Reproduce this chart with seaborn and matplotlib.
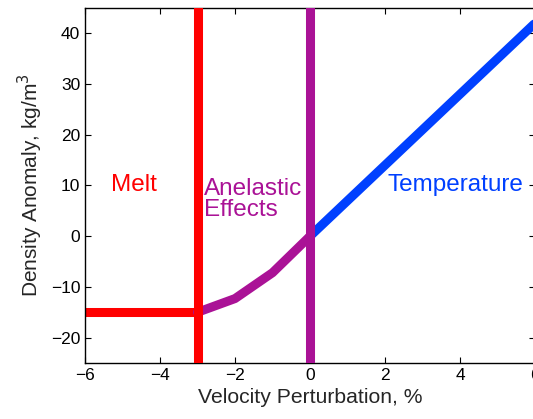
import numpy as np
import pandas as pd
import seaborn as sns
import matplotlib.pyplot as plt

sns.set_style("ticks")
plt.rcParams['font.family'] = ['Liberation Sans', 'DejaVu Sans']

# data
melt_x = [-6, -3]
melt_y = [-15, -15]
anel_x = [-3, -2, -1, 0]
anel_y = [-15, -12.3, -7.2, 0]
temp_x = [0, 2, 4, 6]
temp_y = [0, 14, 28, 42]
vlines = [-3, 0]

red = '#FF0000'
purple = '#AA1296'
blue = '#0040FF'

fig = plt.figure(figsize=(5.33, 4.19), dpi=100)
ax = fig.add_axes([0.1595, 0.1337, 0.8443, 0.8473])

lw = 6.5
sns.lineplot(x=temp_x, y=temp_y, color=blue, lw=lw, ax=ax, zorder=2)
sns.lineplot(x=melt_x, y=melt_y, color=red, lw=lw, ax=ax, zorder=2)
sns.lineplot(x=anel_x, y=anel_y, color=purple, lw=lw, ax=ax, zorder=2)
ax.axvline(vlines[0], color=red, lw=6.5, zorder=3)
ax.axvline(vlines[1], color=purple, lw=6.5, zorder=3)

ax.text(-4.7, 10, 'Melt', color=red, fontsize=17.5, ha='center', va='center')
ax.text(-2.82, 7.2, 'Anelastic\nEffects', color=purple, fontsize=17.5,
        ha='left', va='center', linespacing=0.95)
ax.text(5.7, 10, 'Temperature', color=blue, fontsize=17.5, ha='right', va='center')

ax.set_xlim(-6, 6)
ax.set_ylim(-25, 45)
ax.set_xticks(np.arange(-6, 7, 2))
ax.set_yticks(np.arange(-20, 41, 10))
ax.tick_params(direction='in', top=True, right=True, length=4, width=0.8,
               labelsize=12.5, colors='black')
for s in ax.spines.values():
    s.set_linewidth(1.0)
    s.set_color('black')
ax.set_xlabel('Velocity Perturbation, %', fontsize=15.2)
ax.set_ylabel('Density Anomaly, kg/m$^3$', fontsize=15)

fig.savefig('out.png', dpi=100)
